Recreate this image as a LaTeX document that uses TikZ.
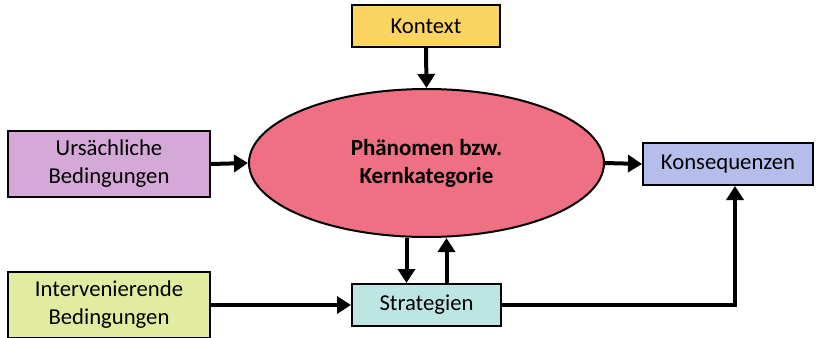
\documentclass[tikz,border=0pt]{standalone}
\usepackage{fontspec}
\setmainfont{Carlito}
\usetikzlibrary{arrows.meta,shapes.geometric}
\definecolor{ctxfill}{HTML}{FCD462}
\definecolor{ursfill}{HTML}{D4A9D8}
\definecolor{intfill}{HTML}{E2ECA0}
\definecolor{strfill}{HTML}{BDE6E2}
\definecolor{konfill}{HTML}{B5BDEA}
\definecolor{phenfill}{HTML}{EF7082}
\begin{document}
\begin{tikzpicture}[x=1pt,y=-1pt,
  every node/.style={font=\fontsize{22.7}{28}\selectfont, align=center, inner sep=0pt},
  box/.style={draw=black, line width=2pt, rectangle},
  arr/.style={line width=4pt, -{Triangle[length=14pt,width=17pt]}}]
  \useasboundingbox (0,0) rectangle (821,337);

  % boxes
  \node[box, fill=ctxfill, minimum width=148pt, minimum height=42pt] (ctx) at (426,26) {Kontext};
  \node[box, fill=ursfill, minimum width=202pt, minimum height=66pt] (urs) at (109,164) {Ursächliche\\Bedingungen};
  \node[box, fill=intfill, minimum width=202pt, minimum height=66pt] (int) at (109,305) {Intervenierende\\Bedingungen};
  \node[box, fill=strfill, minimum width=149pt, minimum height=42pt] (str) at (426.5,305) {Strategien};
  \node[box, fill=konfill, minimum width=170pt, minimum height=42pt] (kon) at (728,164) {Konsequenzen};
  \node[ellipse, draw=black, line width=2pt, fill=phenfill, minimum width=355pt, minimum height=148pt,
        font=\fontsize{23}{28}\selectfont\bfseries] (phen) at (426.5,163) {Phänomen bzw.\\Kernkategorie};

  % connectors
  \draw[arr] (ctx.south) -- (phen.north);
  \draw[arr] (urs.east) -- (phen.west);
  \draw[arr] (phen.east) -- (kon.west);
  \draw[arr] ([xshift=-20pt]phen.south) -- ([xshift=-20pt]str.north);
  \draw[arr] ([xshift=20pt]str.north) -- ([xshift=20pt]phen.south);
  \draw[arr] (int.east) -- (str.west);
  \draw[arr] (str.east) -| ([xshift=7pt]kon.south);
\end{tikzpicture}
\end{document}
